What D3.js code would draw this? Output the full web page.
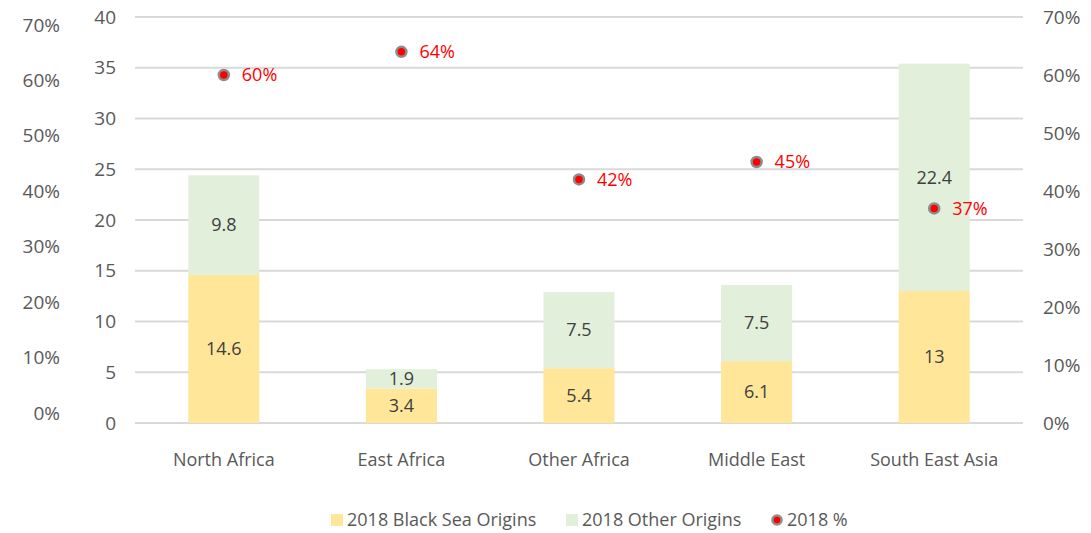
<!DOCTYPE html>
<html>
<head>
<meta charset="utf-8">
<script src="https://cdn.jsdelivr.net/npm/d3@7"></script>
<style>
  body { margin: 0; background: #fff; }
  svg text { font-family: "Liberation Sans Narrow", "Open Sans", sans-serif; }
</style>
</head>
<body>
<svg id="chart" width="1091" height="533"></svg>
<script>
var regions = ["North Africa", "East Africa", "Other Africa", "Middle East", "South East Asia"];
var blackSea = [14.6, 3.4, 5.4, 6.1, 13];
var otherOrigins = [9.8, 1.9, 7.5, 7.5, 22.4];
var share2018 = [0.60, 0.64, 0.42, 0.45, 0.37];
var volTicks = [0, 5, 10, 15, 20, 25, 30, 35, 40];
var pctTicks = [0, 0.1, 0.2, 0.3, 0.4, 0.5, 0.6, 0.7];

var svg = d3.select("#chart");
var plotLeft = 135, plotRight = 1023, plotTop = 17, plotBottom = 423;

var x = d3.scaleBand().domain(regions).range([plotLeft, plotRight]).paddingInner(0.6).paddingOuter(0.3);
var y = d3.scaleLinear().domain([0, 40]).range([plotBottom, plotTop]);
var yPct = d3.scaleLinear().domain([0, 0.7]).range([plotBottom, plotTop]);
// the far-left percent labels sit on their own spacing
var yPctOuter = d3.scaleLinear().domain([0, 0.7]).range([413, 25]);

var textCol = "#595959";

// gridlines
svg.append("g")
    .selectAll("line")
    .data(volTicks)
    .enter()
    .append("line")
    .attr("x1", plotLeft)
    .attr("x2", plotRight)
    .attr("y1", function (d) { return y(d) })
    .attr("y2", function (d) { return y(d) })
    .attr("stroke", "#d9d9d9")
    .attr("stroke-width", 2)

// inner volume axis
var gy = svg.append("g")
    .attr("transform", "translate(" + (plotLeft - 19) + ",0)")
    .call(d3.axisLeft(y).tickValues(volTicks).tickSize(0).tickPadding(0))
gy.select(".domain").remove();
gy.selectAll("text").attr("fill", textCol).style("font-size", "19px");

// far-left percent axis
var gp = svg.append("g")
    .attr("transform", "translate(60,0)")
    .call(d3.axisLeft(yPctOuter).tickValues(pctTicks).tickFormat(d3.format(".0%")).tickSize(0).tickPadding(0))
gp.select(".domain").remove();
gp.selectAll("text").attr("fill", textCol).style("font-size", "19px");

// right percent axis
var gr = svg.append("g")
    .attr("transform", "translate(1043,0)")
    .call(d3.axisRight(yPct).tickValues(pctTicks).tickFormat(d3.format(".0%")).tickSize(0).tickPadding(0))
gr.select(".domain").remove();
gr.selectAll("text").attr("fill", textCol).style("font-size", "19px");

// bars
var rows = regions.map(function (r, i) {
    return { region: r, black: blackSea[i], other: otherOrigins[i], pct: share2018[i] };
});

var bars = svg.append("g");
bars.selectAll(".black")
    .data(rows)
    .enter()
    .append("rect")
    .attr("class", "black")
    .attr("x", function (d) { return x(d.region) })
    .attr("width", x.bandwidth())
    .attr("y", function (d) { return y(d.black) })
    .attr("height", function (d) { return y(0) - y(d.black) })
    .attr("fill", "#ffe699")

bars.selectAll(".other")
    .data(rows)
    .enter()
    .append("rect")
    .attr("class", "other")
    .attr("x", function (d) { return x(d.region) })
    .attr("width", x.bandwidth())
    .attr("y", function (d) { return y(d.black + d.other) })
    .attr("height", function (d) { return y(d.black) - y(d.black + d.other) })
    .attr("fill", "#e2efda")

// value labels
bars.selectAll(".lblBlack")
    .data(rows)
    .enter()
    .append("text")
    .attr("x", function (d) { return x(d.region) + x.bandwidth() / 2 })
    .attr("y", function (d) { return y(d.black / 2) })
    .attr("dy", "0.35em")
    .attr("text-anchor", "middle")
    .attr("fill", "#404040")
    .style("font-size", "18px")
    .text(function (d) { return d.black })

bars.selectAll(".lblOther")
    .data(rows)
    .enter()
    .append("text")
    .attr("x", function (d) { return x(d.region) + x.bandwidth() / 2 })
    .attr("y", function (d) { return y(d.black + d.other / 2) })
    .attr("dy", "0.35em")
    .attr("text-anchor", "middle")
    .attr("fill", "#404040")
    .style("font-size", "18px")
    .text(function (d) { return d.other })

// percent dots
var dots = svg.append("g");
dots.selectAll("circle")
    .data(rows)
    .enter()
    .append("circle")
    .attr("cx", function (d) { return x(d.region) + x.bandwidth() / 2 })
    .attr("cy", function (d) { return yPct(d.pct) })
    .attr("r", 5)
    .attr("fill", "#ff0000")
    .attr("stroke", "#8c8c8c")
    .attr("stroke-width", 2.5)

dots.selectAll("text")
    .data(rows)
    .enter()
    .append("text")
    .attr("x", function (d) { return x(d.region) + x.bandwidth() / 2 + 18 })
    .attr("y", function (d) { return yPct(d.pct) })
    .attr("dy", "0.35em")
    .attr("fill", "#ff0000")
    .style("font-size", "18px")
    .text(function (d) { return d3.format(".0%")(d.pct) })

// category labels
svg.append("g")
    .selectAll("text")
    .data(regions)
    .enter()
    .append("text")
    .attr("x", function (d) { return x(d) + x.bandwidth() / 2 })
    .attr("y", 460)
    .attr("dy", "0.35em")
    .attr("text-anchor", "middle")
    .attr("fill", textCol)
    .style("font-size", "18px")
    .text(function (d) { return d })

// legend
var legendItems = [
    { label: "2018 Black Sea Origins", type: "rect", color: "#ffe699", x: 331 },
    { label: "2018 Other Origins", type: "rect", color: "#e2efda", x: 566 },
    { label: "2018 %", type: "dot", color: "#ff0000", x: 771 }
];
var lg = svg.append("g");
legendItems.forEach(function (d) {
    if (d.type === "rect") {
        lg.append("rect").attr("x", d.x).attr("y", 514).attr("width", 12).attr("height", 12).attr("fill", d.color);
    } else {
        lg.append("circle").attr("cx", d.x + 6).attr("cy", 520).attr("r", 4.5)
            .attr("fill", d.color).attr("stroke", "#8c8c8c").attr("stroke-width", 2.5);
    }
    lg.append("text")
        .attr("x", d.x + 16)
        .attr("y", 520)
        .attr("dy", "0.35em")
        .attr("fill", textCol)
        .style("font-size", "18px")
        .text(d.label)
});
</script>
</body>
</html>
